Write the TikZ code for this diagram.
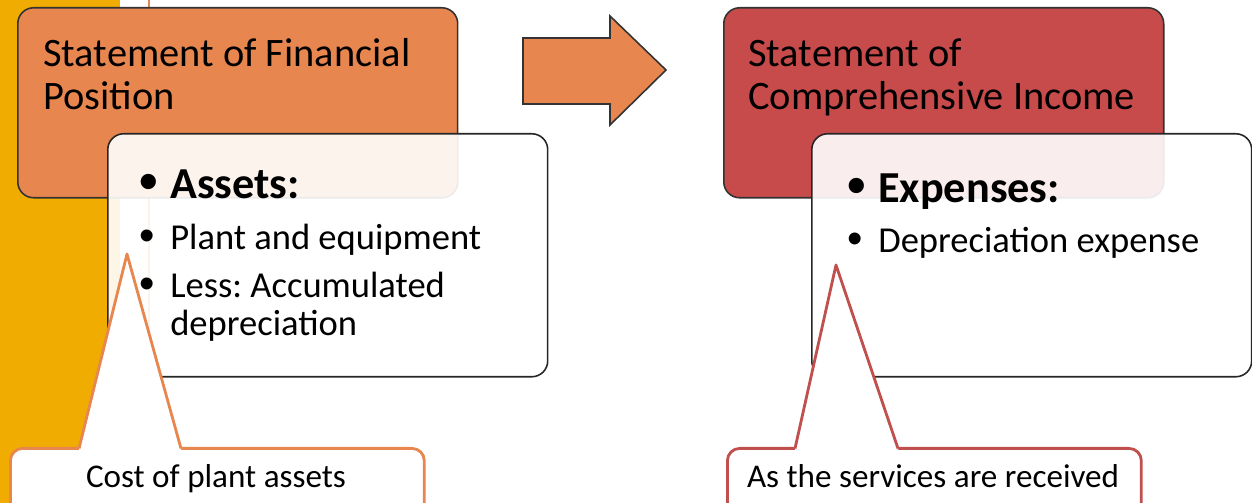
\documentclass[tikz,border=0pt]{standalone}
\usepackage{fontspec}
\setmainfont{Carlito}
\newfontfamily\dotfont{Liberation Sans}
\usetikzlibrary{positioning,calc}
\frenchspacing

\definecolor{bandgold}{HTML}{F0AC00}
\definecolor{posorange}{HTML}{E8864F}
\definecolor{incred}{HTML}{C84B4B}
\definecolor{notered}{HTML}{C0504D}
\newcommand{\itemdot}{\makebox[17.6pt][l]{\dotfont\raisebox{-0.5pt}{\scalebox{1.2}{\textbullet}}}}

\begin{document}
\begin{tikzpicture}[x=0.02cm,y=-0.02cm,
    stmt/.style={draw=black!80,line width=0.9pt,rounded corners=9pt,anchor=north west,
                 minimum width=8.8cm,minimum height=3.8cm},
    items/.style={draw=black!85,line width=0.9pt,fill=white,fill opacity=0.9,rounded corners=9pt,
                  anchor=north west,minimum width=8.8cm,minimum height=4.86cm},
    note/.style={fill=white,line width=1.6pt,rounded corners=7pt,anchor=north west,
                 minimum width=8.28cm,minimum height=2.4cm},
    title/.style={anchor=base west,inner sep=0pt,align=left,font=\fontsize{23}{24.9}\selectfont},
    entry/.style={anchor=base west,inner sep=0pt,align=left,font=\fontsize{20.8}{21.8}\selectfont},
    group/.style={anchor=base west,inner sep=0pt,font=\bfseries\fontsize{25.2}{27}\selectfont},
    notetext/.style={anchor=base,inner sep=0pt,font=\fontsize{18.85}{20}\selectfont}]
  \useasboundingbox (0,0) rectangle (1252,503);
  \clip (0,0) rectangle (1252,503);
  % slide band
  \fill[bandgold] (0,0) rectangle (120,503);
  \draw[posorange,line width=1.1pt] (149,0) -- (149,503);

  % financial position
  \node[stmt,fill=posorange] (finpos) at (17,7) {};
  \node[title] (finhead) at (43,110) {Statement of Financial\\Position};
  \node[items] (assets) at (107,133) {};
  \node[group] (assethead) at (139,199) {\itemdot Assets:};
  \node[entry] (plant) at (139,250) {\itemdot Plant and equipment};
  \node[entry] (accum) at (139,336) {\itemdot Less: Accumulated\\\hspace*{17.6pt}depreciation};

  % arrow
  \filldraw[fill=posorange,draw=black!80,line width=0.9pt] (523,38) -- (610,38) -- (610,16)
    -- (666,70) -- (610,125) -- (610,104) -- (523,104) -- cycle;

  % comprehensive income
  \node[stmt,fill=incred] (income) at (723,7) {};
  \node[title] (inchead) at (748,110) {Statement of\\Comprehensive Income};
  \node[items] (expenses) at (811,133) {};
  \node[group] (exphead) at (847,203) {\itemdot Expenses:};
  \node[entry] (deprexp) at (847,253) {\itemdot Depreciation expense};

  % notes
  \node[note,draw=posorange] (costnote) at (9,447) {};
  \node[notetext] (costtext) at (216,487) {Cost of plant assets};
  \coordinate (costtip) at (127,254);
  \fill[white] (79,445) -- (costtip) -- (181,445) -- (181,452) -- (79,452) -- cycle;
  \draw[posorange,line width=1.6pt,line join=round] (79,448.5) -- (costtip) -- (181,448.5);

  \node[note,draw=notered] (servnote) at (726,447) {};
  \node[notetext] (servtext) at (933,487) {As the services are received};
  \coordinate (servtip) at (836,265);
  \fill[white] (795,445) -- (servtip) -- (898,445) -- (898,452) -- (795,452) -- cycle;
  \draw[notered,line width=1.6pt,line join=round] (795,448.5) -- (servtip) -- (898,448.5);
\end{tikzpicture}
\end{document}
